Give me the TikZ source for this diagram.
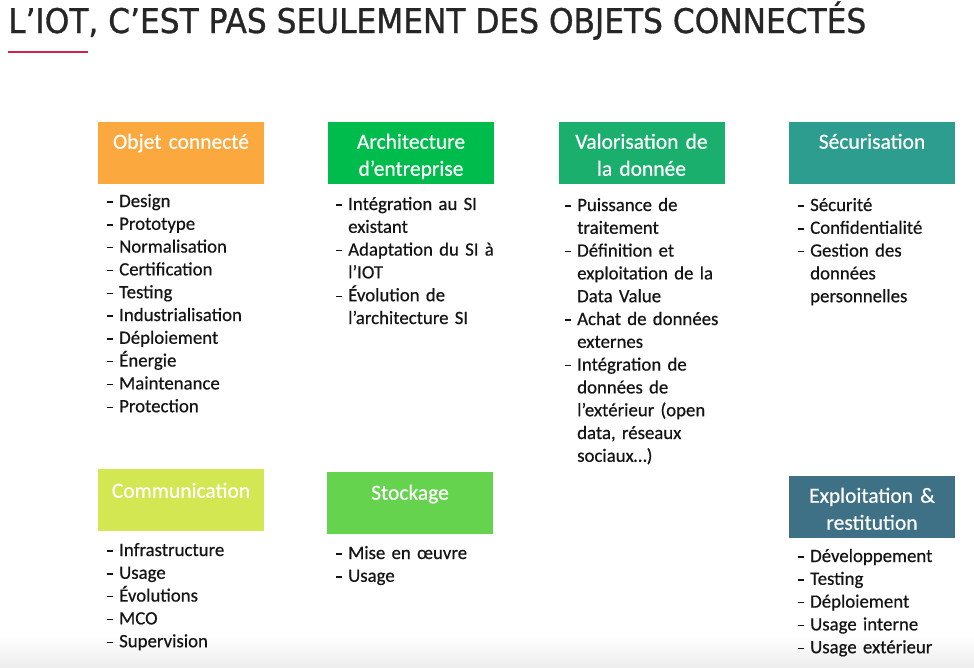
\documentclass[tikz,border=0pt]{standalone}
\usepackage{graphicx}
\usepackage{fontspec}
\setmainfont{Carlito}[FakeBold=0.5]
\newfontfamily\titlefont[FakeBold=1.0]{DejaVu Sans}
\definecolor{titlegray}{HTML}{262626}
\definecolor{textdark}{HTML}{141414}
\definecolor{accentred}{HTML}{D6204A}
\definecolor{cOrange}{HTML}{FBA93F}
\definecolor{cArch}{HTML}{00BC4C}
\definecolor{cValo}{HTML}{1BAF6E}
\definecolor{cSecu}{HTML}{2D9D8F}
\definecolor{cComm}{HTML}{D2E752}
\definecolor{cStock}{HTML}{66D34E}
\definecolor{cExpl}{HTML}{3E7186}
\newcommand\li[1]{\par\hangindent=12pt\hangafter=1\noindent\strut\makebox[12pt][l]{\rule[4.3pt]{6pt}{1.3pt}}#1\par}
\tikzset{
  catbox/.style={inner sep=0, minimum width=166pt, minimum height=62pt, draw=none},
  cattitle/.style={anchor=north, inner sep=0, text width=170pt, align=center, text=white,
    font=\fontsize{21.5}{27}\selectfont},
  itemlist/.style={anchor=north west, inner sep=0, text width=175pt, align=left, text=textdark,
    font=\fontsize{18.8}{22.8}\selectfont},
  redrule/.style={draw=accentred, line width=1.4pt}
}
\begin{document}
\begin{tikzpicture}[x=1pt,y=-1pt]
\useasboundingbox (0,0) rectangle (974,667);
\shade[top color=white, bottom color=black!7, draw=none] (0,635) rectangle (974,667);

% title
\node[anchor=base west, inner sep=0, text=titlegray] (title) at (8,33)
  {\resizebox{858pt}{\height}{\titlefont\fontsize{34}{34}\selectfont L’IOT, C’EST PAS SEULEMENT DES OBJETS CONNECTÉS}};
\coordinate (ruleA) at (8,52);
\coordinate (ruleB) at (88,52);
\draw[redrule] (ruleA) -- (ruleB);

% boxes
\node[catbox, fill=cOrange] (b1) at (181,153) {};
\node[catbox, fill=cArch]   (b2) at (411,153) {};
\node[catbox, fill=cValo]   (b3) at (641.5,153) {};
\node[catbox, fill=cSecu]   (b4) at (872,153) {};
\node[catbox, fill=cComm]   (b5) at (181,500) {};
\node[catbox, fill=cStock]  (b6) at (410,503) {};
\node[catbox, fill=cExpl]   (b7) at (872,507) {};

% box titles
\node[cattitle] (t1) at (181,129.6) {\strut Objet connecté};
\node[cattitle] (t2) at (411,129.6) {\strut Architecture\\d’entreprise};
\node[cattitle] (t3) at (641.5,129.6) {\strut Valorisation de\\la donnée};
\node[cattitle] (t4) at (872,129.6) {\strut Sécurisation};
\node[cattitle] (t5) at (181,478.6) {\strut Communication};
\node[cattitle] (t6) at (410,480.6) {\strut Stockage};
\node[cattitle] (t7) at (872,483.6) {\strut Exploitation \&\\restitution};

% lists
\node[itemlist] (l1) at (107,184) {%
\li{Design}\li{Prototype}\li{Normalisation}\li{Certification}\li{Testing}%
\li{Industrialisation}\li{Déploiement}\li{Énergie}\li{Maintenance}\li{Protection}};
\node[itemlist] (l2) at (336,187) {%
\li{Intégration au SI\newline existant}\li{Adaptation du SI à\newline l’IOT}%
\li{Évolution de\newline l’architecture SI}};
\node[itemlist] (l3) at (565,188) {%
\li{Puissance de\newline traitement}\li{Définition et\newline exploitation de la\newline Data Value}%
\li{Achat de données\newline externes}%
\li{Intégration de\newline données de\newline l’extérieur (open\newline data, réseaux\newline sociaux…)}};
\node[itemlist] (l4) at (798,188) {%
\li{Sécurité}\li{Confidentialité}\li{Gestion des\newline données\newline personnelles}};
\node[itemlist] (l5) at (107,533) {%
\li{Infrastructure}\li{Usage}\li{Évolutions}\li{MCO}\li{Supervision}};
\node[itemlist] (l6) at (336,536) {%
\li{Mise en œuvre}\li{Usage}};
\node[itemlist] (l7) at (798,539) {%
\li{Développement}\li{Testing}\li{Déploiement}\li{Usage interne}\li{Usage extérieur}};
\end{tikzpicture}
\end{document}
